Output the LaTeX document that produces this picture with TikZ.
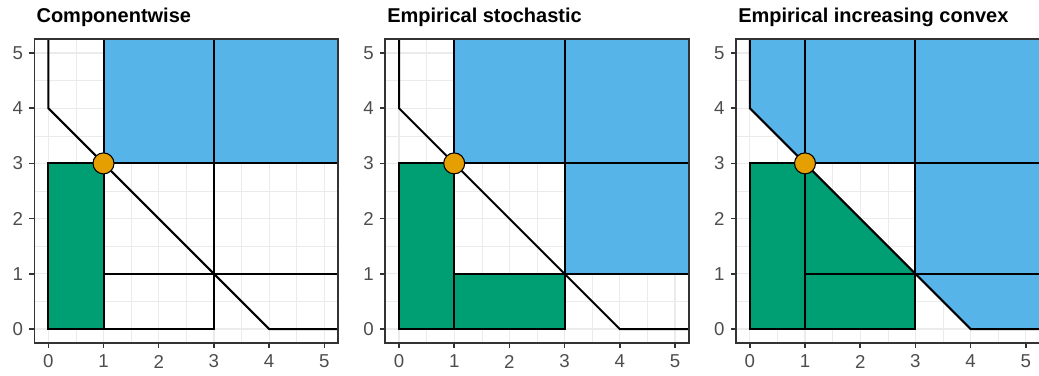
\documentclass[tikz,border=0pt]{standalone}
\usepackage{fontspec}
\setmainfont{Liberation Sans}
\definecolor{cblue}{HTML}{56B4E9}
\definecolor{cgreen}{HTML}{009E73}
\definecolor{corange}{HTML}{E69F00}
\definecolor{gridc}{HTML}{EBEBEB}
\definecolor{framec}{HTML}{333333}
\definecolor{labc}{HTML}{4D4D4D}
\tikzset{
  minorgrid/.style={gridc, line width=0.45pt},
  majorgrid/.style={gridc, line width=0.9pt},
  frameline/.style={framec, line width=1.1pt},
  tickline/.style={framec, line width=1.1pt},
  ticklab/.style={labc, inner sep=0pt, font=\fontsize{14}{14}\selectfont},
  titlelab/.style={inner sep=0pt, font=\fontsize{15}{15}\selectfont\bfseries, anchor=base west},
  outlined/.style={draw=black, line width=1.5pt, line join=miter},
  bluebox/.style={outlined, fill=cblue},
  greenbox/.style={outlined, fill=cgreen},
  openbox/.style={outlined},
  frontier/.style={draw=black, line width=1.5pt},
  obspoint/.style={circle, draw=black, line width=0.8pt, fill=corange, minimum size=15.75pt, inner sep=0pt},
  panelscope/.style={x=41.4pt, y=41.4pt}
}
\newcommand{\Lx}{5.8}
\newcommand{\panelgrid}{%
  \fill[white] (-0.25,-0.25) rectangle (5.25,5.25);
  \foreach \v in {0.5,1.5,2.5,3.5,4.5} {
    \draw[minorgrid] (\v,-0.25) -- (\v,5.25);
    \draw[minorgrid] (-0.25,\v) -- (5.25,\v);
  }
  \foreach \v in {0,...,5} {
    \draw[majorgrid] (\v,-0.25) -- (\v,5.25);
    \draw[majorgrid] (-0.25,\v) -- (5.25,\v);
  }
}
\newcommand{\panelframe}[1]{%
  \draw[frameline] (-0.25,-0.25) rectangle (5.25,5.25);
  \foreach \v in {0,...,5} {
    \draw[tickline] (-0.25,\v) -- ++(-3.8pt,0);
    \draw[tickline] (\v,-0.25) -- ++(0,-3.8pt);
    \node[ticklab, anchor=east] (#1-y\v) at (-0.453,\v) {\v};
    \node[ticklab, anchor=center] (#1-x\v) at (\v,-0.589) {\v};
  }
}
\newcommand{\frontierline}{%
  \draw[frontier] (0,\Lx) -- (0,4) -- (4,0) -- (\Lx,0);
}
\begin{document}
\begin{tikzpicture}[x=0.75pt, y=-0.75pt]
\useasboundingbox (0,0) rectangle (1039,375);

% ---------------- Panel 1: Componentwise ----------------
\node[titlelab] (t1) at (36.3,22.7) {Componentwise};
\begin{scope}[shift={(48.3,329)}, panelscope]
  \panelgrid
  \begin{scope}
    \clip (-0.25,-0.25) rectangle (5.25,5.25);
    \path[bluebox] (1,3) rectangle (\Lx,\Lx);
    \path[openbox] (3,1) rectangle (\Lx,\Lx);
    \path[openbox] (0,0) rectangle (3,1);
    \path[greenbox] (0,0) rectangle (1,3);
    \frontierline
  \end{scope}
  \node[obspoint] (p1) at (1,3) {};
  \panelframe{a}
\end{scope}

% ---------------- Panel 2: Empirical stochastic ----------------
\node[titlelab] (t2) at (387,22.7) {Empirical stochastic};
\begin{scope}[shift={(399,329)}, panelscope]
  \panelgrid
  \begin{scope}
    \clip (-0.25,-0.25) rectangle (5.25,5.25);
    \fill[cblue] (1,3) rectangle (\Lx,\Lx);
    \fill[cblue] (3,1) rectangle (\Lx,\Lx);
    \path[openbox] (1,3) rectangle (\Lx,\Lx);
    \path[openbox] (3,1) rectangle (\Lx,\Lx);
    \path[greenbox] (0,0) rectangle (3,1);
    \path[greenbox] (0,0) rectangle (1,3);
    \frontierline
  \end{scope}
  \node[obspoint] (p2) at (1,3) {};
  \panelframe{b}
\end{scope}

% ---------------- Panel 3: Empirical increasing convex ----------------
\node[titlelab] (t3) at (738,22.7) {Empirical increasing convex};
\begin{scope}[shift={(749.8,329)}, panelscope]
  \panelgrid
  \begin{scope}
    \clip (-0.25,-0.25) rectangle (5.25,5.25);
    \fill[cblue] (0,\Lx) -- (0,4) -- (1,3) -- (3,3) -- (3,1) -- (4,0) -- (\Lx,0) -- (\Lx,\Lx) -- cycle;
    \path[openbox] (1,3) rectangle (\Lx,\Lx);
    \path[openbox] (3,1) rectangle (\Lx,\Lx);
    \fill[cgreen] (0,0) -- (0,3) -- (1,3) -- (3,1) -- (3,0) -- cycle;
    \path[greenbox] (0,0) rectangle (3,1);
    \path[greenbox] (0,0) rectangle (1,3);
    \frontierline
  \end{scope}
  \node[obspoint] (p3) at (1,3) {};
  \panelframe{c}
\end{scope}
\end{tikzpicture}
\end{document}
